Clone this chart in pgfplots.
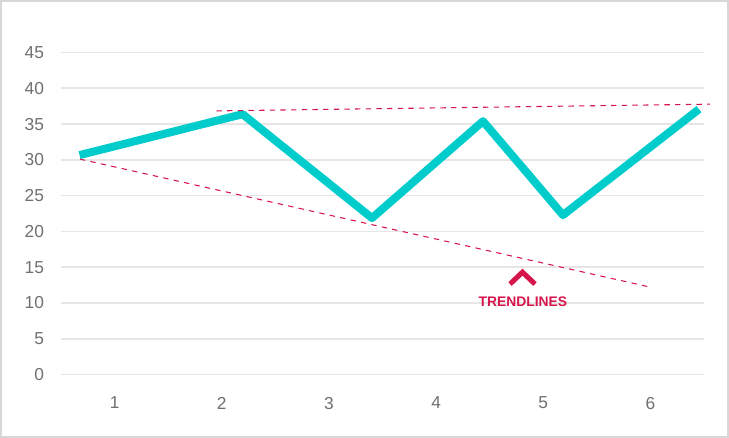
\documentclass[border=0pt]{standalone}
\usepackage{pgfplots}
\pgfplotsset{compat=1.18}
\usepackage{fontspec}
\setmainfont{Liberation Sans}
\definecolor{teal1}{RGB}{0,204,204}
\definecolor{crim}{RGB}{214,22,75}
\definecolor{gridc}{RGB}{230,230,230}
\definecolor{tickc}{RGB}{112,112,112}
\definecolor{framec}{RGB}{215,215,215}
\begin{document}
\begin{tikzpicture}
\begin{axis}[
  at={(0,0)}, anchor=south west,
  scale only axis,
  width=482.25pt, height=241.5pt,
  xmin=0.5, xmax=6.5, ymin=0, ymax=45,
  xtick={1,2,3,4,5,6},
  ytick={0,5,10,15,20,25,30,35,40,45},
  axis line style={draw=none},
  major tick length=0pt,
  ymajorgrids,
  grid style={gridc, line width=1.3pt},
  tick label style={font=\fontsize{13}{15}\selectfont, text=tickc},
  /pgf/number format/assume math mode=true,
  xticklabel style={yshift=-13.3pt},
  yticklabel style={xshift=-9.2pt},
  clip=false,
]
\addplot[teal1, line width=6pt, line join=round, line cap=butt] coordinates {
  (0.673,30.66) (2.194,36.38) (3.402,21.86) (4.438,35.4) (5.184,22.28) (6.453,37.08)
};
\addplot[crim, line width=0.8pt, dash pattern=on 4pt off 4pt] coordinates {
  (1.951,36.84) (6.556,37.78)
};
\addplot[crim, line width=0.8pt, dash pattern=on 4pt off 4pt] coordinates {
  (0.677,30.1) (5.996,12.22)
};
\addplot[crim, line width=3.8pt, line join=miter] coordinates {
  (4.69,12.64) (4.806,14.3) (4.923,12.64)
};
\node[text=crim, font=\fontsize{10.4}{12}\selectfont\bfseries] at (axis cs:4.81,10.13) {TRENDLINES};
\end{axis}
\draw[framec, line width=1.5pt] (-45pt,-46.875pt) rectangle (500.25pt,280.125pt);
\end{tikzpicture}
\end{document}
